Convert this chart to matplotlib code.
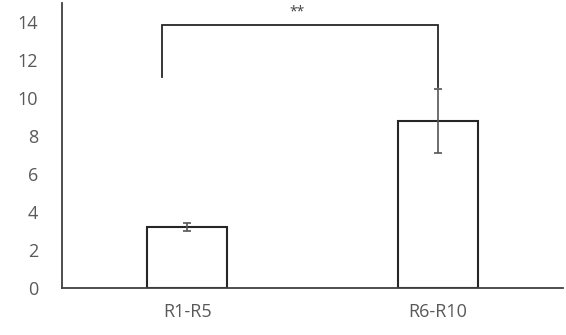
import matplotlib.pyplot as plt
import numpy as np

# data
groups = ["R1-R5", "R6-R10"]
means = [3.2, 8.8]
errors = [0.2, 1.7]
yticks = [0, 2, 4, 6, 8, 10, 12, 14]

plt.rcParams['font.family'] = ['Open Sans', 'DejaVu Sans']

fig = plt.figure(figsize=(5.66, 3.35), dpi=100)
ax = fig.add_axes([62 / 566, 1 - 288 / 335, 501 / 566, 285 / 335])

x = np.arange(len(groups))
ax.bar(x, means, width=0.32, color='white', edgecolor='#262626', linewidth=1.5, zorder=2)
ax.errorbar(x, means, yerr=errors, fmt='none', ecolor='#555555', elinewidth=1.2,
            capsize=3, capthick=1.2, zorder=3)

# significance bracket
ax.plot([-0.1, -0.1, 1.0, 1.0], [11.1, 13.85, 13.85, 10.6], color='#262626', lw=1.3,
        solid_joinstyle='miter', zorder=3)
ax.text(0.44, 14.55, "**", ha='center', va='center', fontsize=10, color='#404040')

ax.set_xlim(-0.5, 1.5)
ax.set_ylim(0, 15)
ax.set_xticks(x)
ax.set_xticklabels(groups)
ax.set_yticks(yticks)
ax.tick_params(length=0, labelsize=13, colors='#595959')
ax.tick_params(axis='x', pad=11)
ax.tick_params(axis='y', pad=17)
for s in ['top', 'right']:
    ax.spines[s].set_visible(False)
for s in ['left', 'bottom']:
    ax.spines[s].set_color('#404040')
    ax.spines[s].set_linewidth(1.3)

fig.savefig("out.png", dpi=100)
